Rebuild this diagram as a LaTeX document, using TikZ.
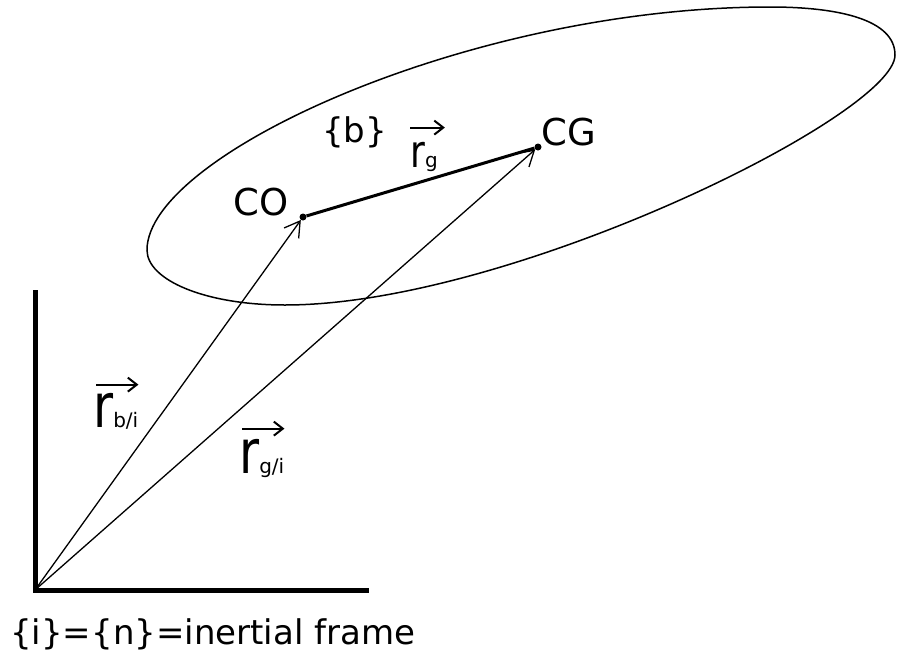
\documentclass[tikz,border=0pt]{standalone}
\usepackage{fontspec}
\setmainfont{DejaVu Sans}
\usetikzlibrary{arrows.meta}
\newcommand{\rbig}[1]{\scalebox{0.8}[1]{\fontsize{#1}{#1}\selectfont r}}
\newcommand{\rsub}[1]{\fontsize{20}{20}\selectfont #1}
\tikzset{
  lbl/.style={inner sep=0pt, font=\fontsize{37}{40}\selectfont},
  vlbl/.style={inner sep=0pt, anchor=base west},
  dotnode/.style={circle, fill=black, inner sep=0pt, minimum size=7pt},
  axisline/.style={line width=5pt, line join=miter},
  posarrow/.style={line width=1.3pt, -{Straight Barb[length=15pt,width=18pt,line width=1.3pt]}},
  vecarrow/.style={line width=2pt, -{Straight Barb[length=9pt,width=14pt,line width=2pt]}},
  rgline/.style={line width=3pt},
  body/.style={line width=1.5pt}
}
\begin{document}
\begin{tikzpicture}[x=1pt,y=-1pt]
\useasboundingbox (0,0) rectangle (897,659);
% body outline
\draw[body] (147,250) .. controls (147,155) and (470,7) .. (770,7)
  .. controls (840,7) and (895,20) .. (895,55)
  .. controls (895,115) and (510,305) .. (285,305)
  .. controls (205,305) and (147,280) .. (147,250) -- cycle;
% axes
\coordinate (o) at (35,590);
\coordinate (ytop) at (35,290);
\coordinate (xend) at (369,590);
\draw[axisline] (ytop) -- (o) -- (xend);
% points
\node[dotnode] (co) at (303,217) {};
\node[dotnode] (cg) at (538,147) {};
\draw[rgline] (co) -- (cg);
\draw[posarrow] (o) -- (co);
\draw[posarrow] (o) -- (cg);
% labels
\node[lbl, anchor=base east] (colbl) at (289,215) {CO};
\node[lbl, anchor=base west] (cglbl) at (541,145) {CG};
\node[lbl, anchor=base west, font=\fontsize{34}{40}\selectfont] (blbl) at (322,142) {\{b\}};
\node[lbl, anchor=base west, font=\fontsize{34}{40}\selectfont] (ilbl) at (10,644) {\{i\}=\{n\}=inertial frame};
% vector labels
\node[vlbl] (rg) at (410,167) {\rbig{45}\rsub{g}};
\draw[vecarrow] ([yshift=14pt]rg.north west) -- ([yshift=14pt,xshift=7pt]rg.north east);
\node[vlbl] (rbi) at (93,427) {\rbig{61}\rsub{b/i}};
\draw[vecarrow] ([yshift=8pt,xshift=3pt]rbi.north west) -- ([yshift=8pt]rbi.north east);
\node[vlbl] (rgi) at (239,473) {\rbig{61}\rsub{g/i}};
\draw[vecarrow] ([yshift=10pt,xshift=3pt]rgi.north west) -- ([yshift=10pt]rgi.north east);
\end{tikzpicture}
\end{document}
